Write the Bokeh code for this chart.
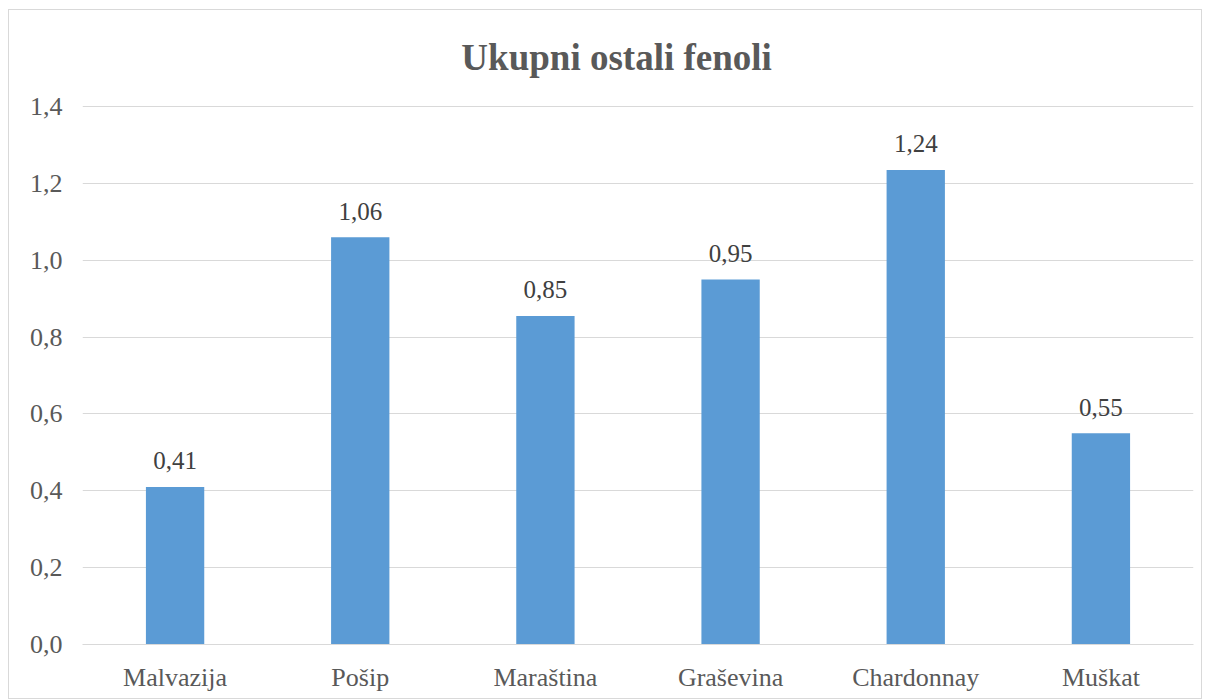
from bokeh.plotting import figure
from bokeh.models import Range1d, ColumnDataSource, CustomJSTickFormatter, FixedTicker
from bokeh.core.properties import value
from bokeh.embed import file_html
from bokeh.resources import INLINE

categories = ["Malvazija", "Pošip", "Maraština", "Graševina", "Chardonnay", "Muškat"]
values = [0.41, 1.06, 0.855, 0.95, 1.235, 0.55]
labels = ["0,41", "1,06", "0,85", "0,95", "1,24", "0,55"]
y_ticks = [0.0, 0.2, 0.4, 0.6, 0.8, 1.0, 1.2, 1.4]
title_text = "Ukupni ostali fenoli"

FONT = "Liberation Serif"

# layout geometry (pixels)
H, BOTTOM = 690, 56
FRAME_H = H - BOTTOM          # frame spans the full height above the x axis
GRID_H = 538                  # pixel height of the 0..1.4 grid area
y_max = y_ticks[-1] * FRAME_H / GRID_H

src = ColumnDataSource(dict(cat=categories, val=values, lab=labels))

p = figure(x_range=categories, y_range=Range1d(0, y_max),
           width=1194, height=H, output_backend="svg", toolbar_location=None,
           min_border_left=73, min_border_right=10, min_border_top=0, min_border_bottom=BOTTOM)

p.vbar(x="cat", top="val", width=0.315, source=src, fill_color="#5B9BD5", line_color=None)
p.text(x="cat", y="val", text="lab", source=src, text_align="center", text_baseline="alphabetic",
       y_offset=-26, text_font=value(FONT), text_font_size="25px", text_color="#404040")

# chart title, centred over the whole chart
p.text(x=[categories[3]], y=[y_ticks[-1]], text=[title_text], x_offset=-114, y_offset=-49,
       text_align="center", text_baseline="alphabetic", text_font=value(FONT),
       text_font_size="37px", text_font_style="bold", text_color="#595959")

p.outline_line_color = None
p.styles = {"border": "1px solid #d9d9d9", "margin-left": "8px", "margin-top": "9px"}
p.xgrid.grid_line_color = None
p.ygrid.grid_line_color = "#d9d9d9"
p.ygrid.grid_line_width = 1

p.yaxis.ticker = FixedTicker(ticks=y_ticks)
p.yaxis.formatter = CustomJSTickFormatter(code="return tick.toFixed(1).replace('.', ',');")
p.yaxis.axis_line_color = None
p.yaxis.major_tick_line_color = None
p.yaxis.minor_tick_line_color = None
p.yaxis.major_label_standoff = 14
p.yaxis.major_label_text_font = FONT
p.yaxis.major_label_text_font_size = "26px"
p.yaxis.major_label_text_color = "#595959"

p.xaxis.axis_line_color = "#d9d9d9"
p.xaxis.major_tick_line_color = None
p.xaxis.minor_tick_line_color = None
p.xaxis.major_label_standoff = 12
p.xaxis.major_label_text_font = FONT
p.xaxis.major_label_text_font_size = "26px"
p.xaxis.major_label_text_color = "#595959"

p.background_fill_color = "white"
p.border_fill_color = "white"

open("out.html", "w").write(file_html(p, INLINE))
